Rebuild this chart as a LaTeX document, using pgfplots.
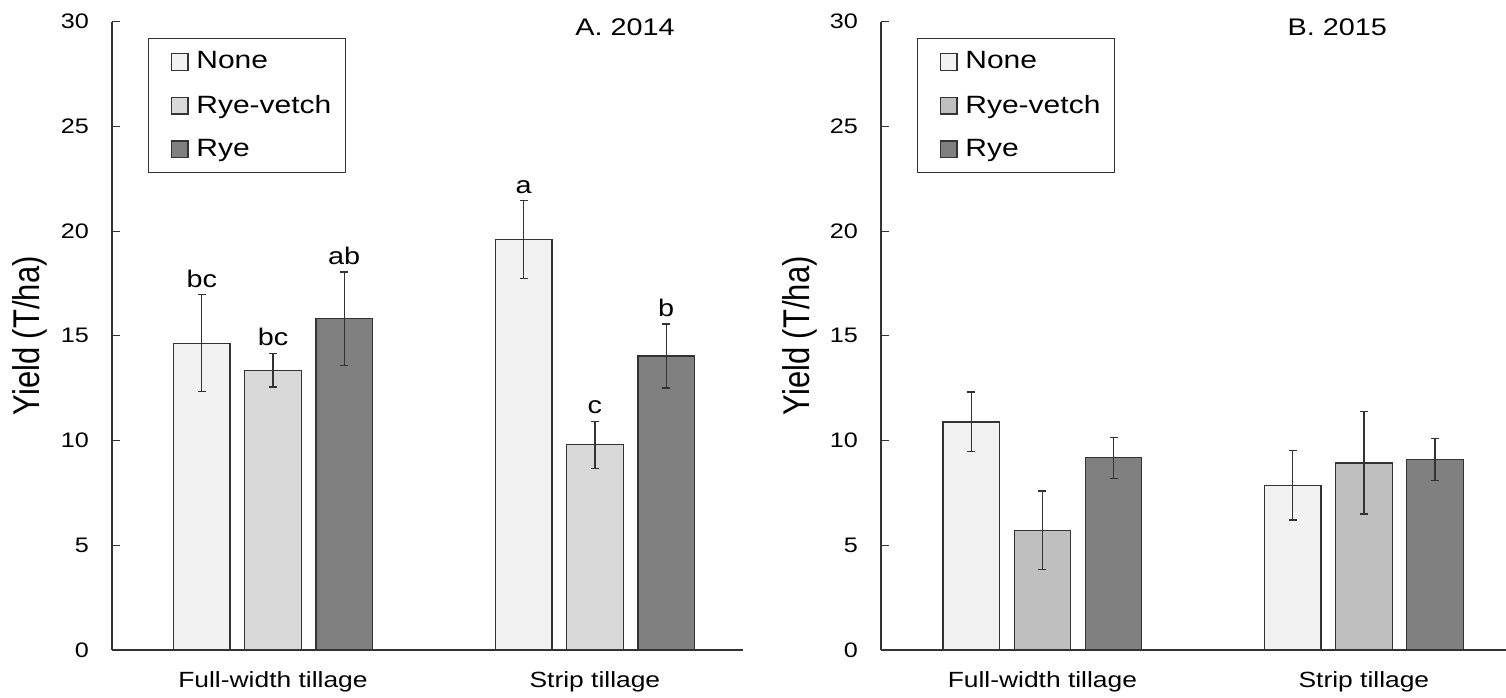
\documentclass[border=0pt]{standalone}
\usepackage{graphicx}
\usepackage{pgfplots}
\pgfplotsset{compat=1.18}
\usepackage{fontspec}
\setmainfont{Liberation Sans}[FakeStretch=1.2]
\newfontfamily\ylabfont{Liberation Sans}
\definecolor{cNone}{HTML}{F2F2F2}
\definecolor{cRV}{HTML}{D9D9D9}
\definecolor{cRVb}{HTML}{BFBFBF}
\definecolor{cRye}{HTML}{808080}
\definecolor{edge}{HTML}{333333}
\pgfplotsset{
  panel/.style={
    scale only axis, height=314.15pt, anchor=south west,
    axis x line=bottom, axis y line=left,
    axis line style={-, edge, line width=0.75pt},
    ymin=0, ymax=30, ytick={0,5,...,30},
    xtick={0,1}, xticklabels={Full-width tillage, Strip tillage},
    xtick style={draw=none},
    ytick style={edge, line width=0.6pt},
    tick align=inside, major tick length=4pt,
    /pgf/number format/assume math mode=true,
    yticklabel style={font=\fontsize{10.5}{12}\selectfont, xshift=-8pt},
    xticklabel style={font=\fontsize{11}{13}\selectfont, yshift=-7pt},
    ylabel={\scalebox{1}[1.2]{\ylabfont Yield (T/ha)}},
    ylabel style={font=\fontsize{15.5}{18}\selectfont, at={(axis description cs:-0.13,0.5)}, anchor=center},
    legend cell align=left,
    legend style={anchor=north west, draw=edge, line width=0.6pt,
      font=\fontsize{12.5}{15}\selectfont, row sep=7.6pt, column sep=1.9pt,
      inner xsep=5pt, inner ysep=4.5pt},
    clip=false,
  },
  bars/.style={ybar, bar width=0.1755, bar shift=0pt, draw=edge, line width=0.6pt, fill=#1,
    legend image code/.code={\path (0pt,0pt); \draw[##1] (6pt,-4.2pt) rectangle (14.4pt,4.2pt);},
    error bars/.cd, y dir=both, y explicit,
    error bar style={edge, line width=0.6pt},
    error mark options={edge, line width=0.6pt, mark size=2pt, rotate=90}},
  letters/.style={draw=none, mark=none, forget plot, nodes near coords,
    point meta=explicit symbolic,
    nodes near coords style={font=\fontsize{12}{14}\selectfont, anchor=south, text=black}},
}
\begin{document}
\begin{tikzpicture}
\path[use as bounding box] (0,0) rectangle (753pt,348.5pt);
\begin{axis}[panel, at={(56pt,23.5pt)}, width=315.5pt, xmin=-0.5, xmax=1.46,
  legend style={at={(axis description cs:0.057,0.974)}}]
\addplot[bars=cNone] coordinates {(-0.2213,14.65) +- (0,2.31) (0.7787,19.6) +- (0,1.86)};
\addplot[bars=cRV] coordinates {(0,13.36) +- (0,0.80) (1,9.8) +- (0,1.12)};
\addplot[bars=cRye] coordinates {(0.2213,15.81) +- (0,2.24) (1.2213,14.04) +- (0,1.53)};
\addplot[letters] coordinates {(-0.2213,16.97) [bc] (0,14.17) [bc] (0.2213,18.04) [ab] (0.7787,21.46) [a] (1,10.92) [c] (1.2213,15.57) [b]};
\legend{None, Rye-vetch, Rye}
\node[font=\fontsize{12}{14}\selectfont] at (axis description cs:0.813,0.9915) {A. 2014};
\end{axis}
\begin{axis}[panel, at={(440.5pt,23.5pt)}, width=312.5pt, xmin=-0.502, xmax=1.442,
  legend style={at={(axis description cs:0.0576,0.974)}}]
\addplot[bars=cNone] coordinates {(-0.2213,10.89) +- (0,1.43) (0.7787,7.86) +- (0,1.65)};
\addplot[bars=cRVb] coordinates {(0,5.71) +- (0,1.88) (1,8.93) +- (0,2.44)};
\addplot[bars=cRye] coordinates {(0.2213,9.18) +- (0,0.98) (1.2213,9.09) +- (0,1.0)};
\legend{None, Rye-vetch, Rye}
\node[font=\fontsize{12}{14}\selectfont] at (axis description cs:0.73,0.9915) {B. 2015};
\end{axis}
\end{tikzpicture}
\end{document}
